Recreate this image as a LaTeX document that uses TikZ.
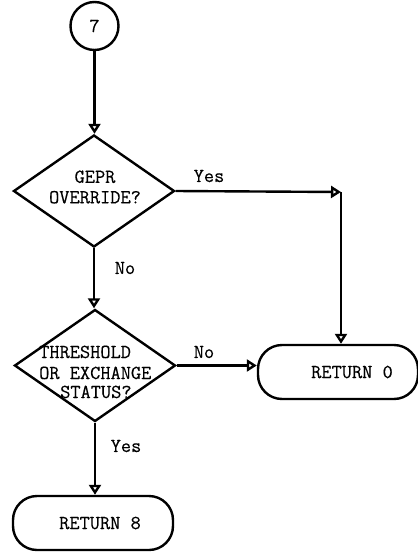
\documentclass[tikz,border=0pt]{standalone}
\usepackage{fontspec}
\newfontfamily\twfont[FakeBold=0.35]{Latin Modern Mono}
\usetikzlibrary{shapes.geometric,arrows.meta}
\begin{document}
\begin{tikzpicture}[x=1pt,y=-1pt, line width=2.4pt,
  arr/.style={-{Triangle[open,length=10pt,width=12pt,line width=2.4pt]}},
  txt/.style={font=\twfont\bfseries\fontsize{19.8}{20.5}\selectfont, align=center, inner sep=0pt},
  dia/.style={draw, diamond, minimum width=161pt, minimum height=112pt, inner sep=0pt},
  term/.style={draw, rectangle, rounded corners=24pt, minimum width=160pt, minimum height=54pt, inner sep=0pt},
  conn/.style={draw, circle, minimum size=48pt, inner sep=0pt}
]
\useasboundingbox (0,0) rectangle (418,552);
\node[conn] (c7) at (94.5,26) {};
\node[txt] at (c7) {7};
\node[dia] (d1) at (94,191) {};
\node[txt] at (95,187) {GEPR\\OVERRIDE?};
\node[dia] (d2) at (95,365.5) {};
\node[txt, anchor=base west] at (38,358) {THRESHOLD};
\node[txt, anchor=base west] at (38,379) {OR EXCHANGE};
\node[txt, anchor=base west] at (59,398) {STATUS?};
\node[term] (r0) at (338,372) {};
\node[txt] at (352,372) {RETURN 0};
\node[term] (r8) at (93,523) {};
\node[txt] at (100,523) {RETURN 8};
\coordinate (k) at (341,192);
\draw[arr] (c7.south) -- (c7.south |- d1.north);
\draw[arr] (d1.east) -- (k);
\draw[arr] (k) -- (k |- r0.north);
\draw[arr] (d1.south) -- (d1.south |- d2.north);
\draw[arr] (d2.east) -- (d2.east -| r0.west);
\draw[arr] (d2.south) -- (d2.south |- r8.north);
\node[txt] at (209,176) {Yes};
\node[txt] at (125,268) {No};
\node[txt] at (204,352) {No};
\node[txt] at (126,446) {Yes};
\end{tikzpicture}
\end{document}
